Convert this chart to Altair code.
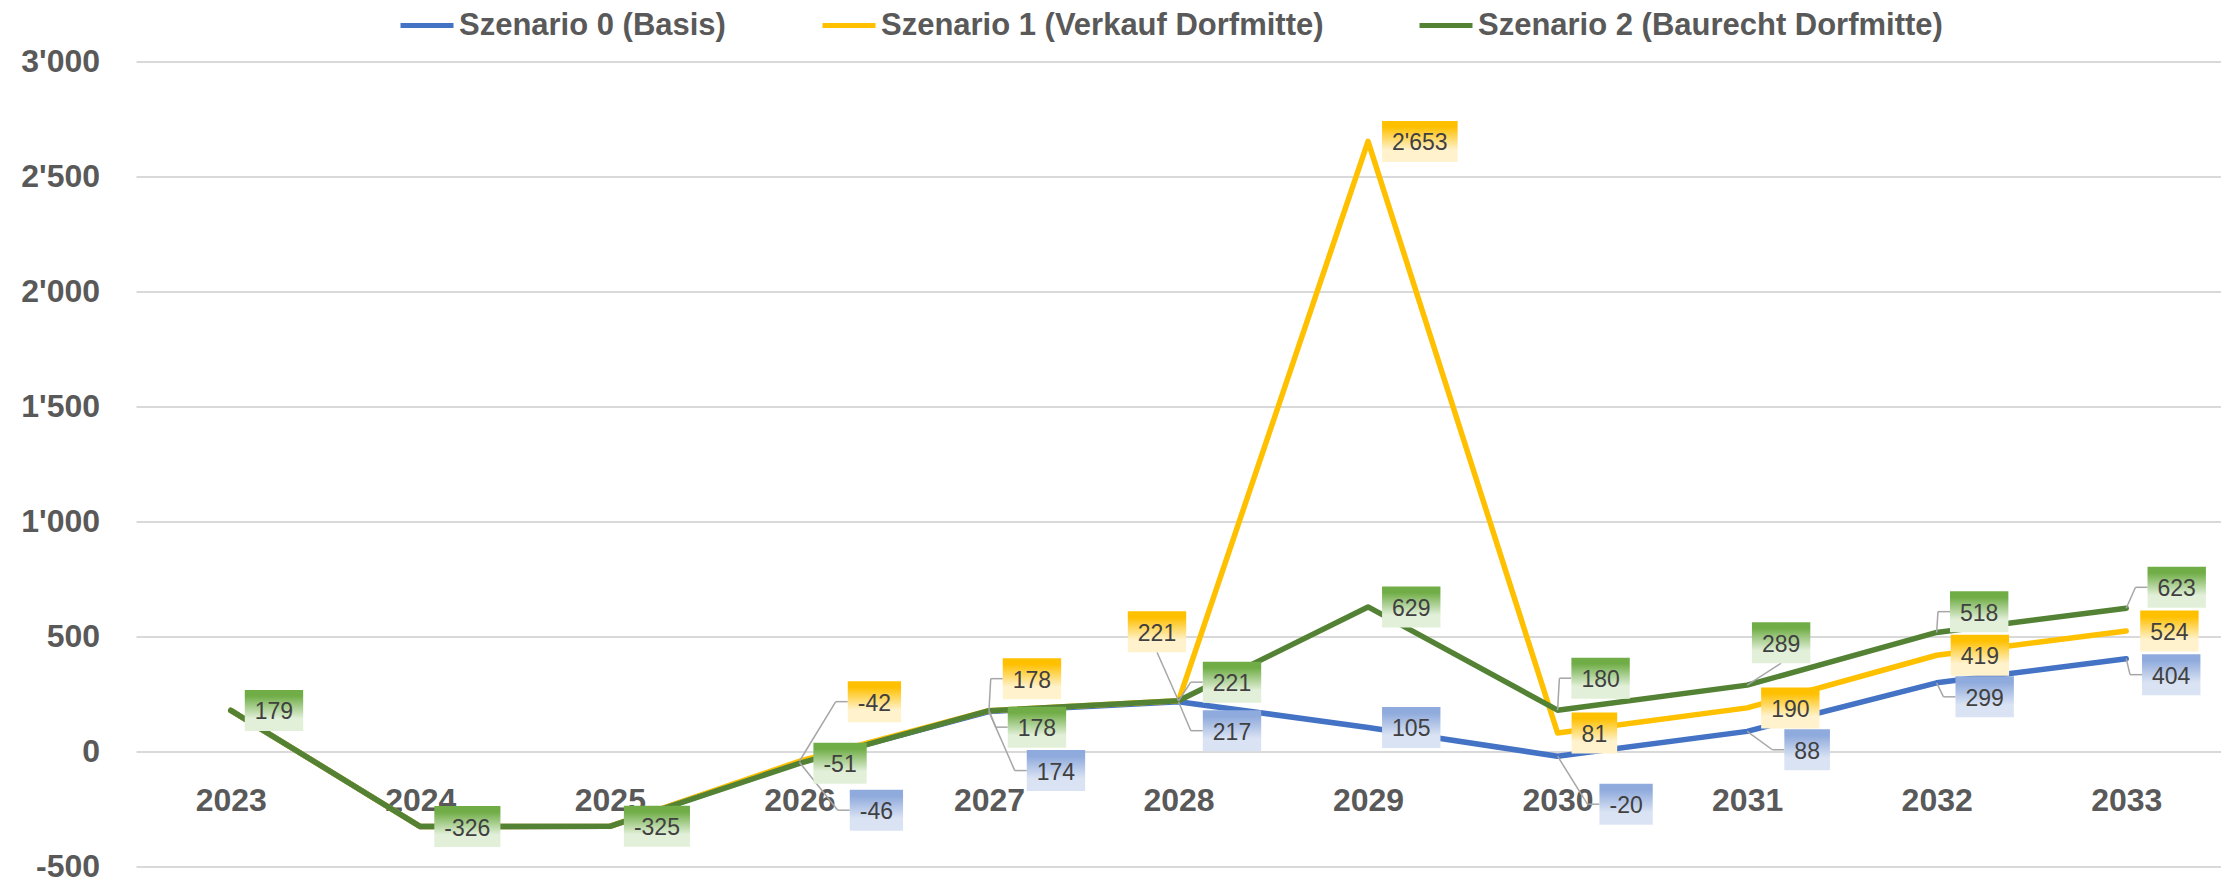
import altair as alt
import pandas as pd

# ---------------- data ----------------
years = [2023, 2024, 2025, 2026, 2027, 2028, 2029, 2030, 2031, 2032, 2033]
series_names = [
    "Szenario 0 (Basis)",
    "Szenario 1 (Verkauf Dorfmitte)",
    "Szenario 2 (Baurecht Dorfmitte)",
]
szenario_0 = [179, -326, -325, -46, 174, 217, 105, -20, 88, 299, 404]
szenario_1 = [179, -326, -325, -42, 178, 221, 2653, 81, 190, 419, 524]
szenario_2 = [179, -326, -325, -51, 178, 221, 629, 180, 289, 518, 623]
y_ticks = [-500, 0, 500, 1000, 1500, 2000, 2500, 3000]
series_values = [szenario_0, szenario_1, szenario_2]

# ---------------- styles ----------------
line_colors = ["#4472C4", "#FFC000", "#548235"]
box_top = ["#8FAADC", "#FFC000", "#70AD47"]
box_bottom = ["#DAE3F3", "#FFF2CC", "#E2F0D9"]
FONT = "Liberation Sans"
GREY_TXT = "#595959"

# ---------------- layout ----------------
W, H = 2085, 805
X_DOM = [2022.5, 2033.5]
Y_DOM = [-500, 3000]
ux = (X_DOM[1] - X_DOM[0]) / W   # data units per px (x)
uy = (Y_DOM[1] - Y_DOM[0]) / H   # data units per px (y)
BOX_H = 41

# label placement: (year, mode, dx px, dy px) box centre offset from point
label_layout = {
    0: [(2026, "side", 77, 48), (2027, "side", 67, 59), (2028, "side", 53.5, 29),
        (2029, "right", 0, 0), (2030, "side", 68.5, 48), (2031, "side", 60, 18.4),
        (2032, "side", 48, 14), (2033, "side", 45, 16)],
    1: [(2026, "side", 75, -59.6), (2027, "side", 43, -32), (2028, "bottom", -21.5, -69),
        (2029, "right", 0, 0), (2030, "right", 0, 0), (2031, "right", 0, 0),
        (2032, "right", 0, 0), (2033, "right", 0, 0)],
    2: [(2023, "right", 0, 0), (2024, "right", 0, 0), (2025, "right", 0, 0),
        (2026, "right", 0, 0), (2027, "side", 48, 16.5), (2028, "side", 53.5, -18.6),
        (2029, "right", 0, 0), (2030, "side", 43, -32), (2031, "bottom", 34, -42.5),
        (2032, "side", 42.5, -20.8), (2033, "side", 50.5, -21)],
}


def fmt(v):
    return f"{v:,}".replace(",", "'")


def text_w(s):
    return sum(12.8 if c.isdigit() else (7.7 if c == "-" else 4.4) for c in s)


line_rows = []
for s, vals in enumerate(series_values):
    for yr, v in zip(years, vals):
        line_rows.append({"year": yr, "value": v, "series": series_names[s]})
lines_df = pd.DataFrame(line_rows)

box_rows, lead_rows = [], []
for s, entries in label_layout.items():
    for yr, mode, dx, dy in entries:
        v = series_values[s][years.index(yr)]
        lab = fmt(v)
        w = text_w(lab) + 20
        if mode == "right":
            dx, dy = 14 + w / 2, 0
        cx = yr + dx * ux
        cy = v - dy * uy
        x1, x2 = cx - w / 2 * ux, cx + w / 2 * ux
        ytop, ybot = cy + BOX_H / 2 * uy, cy - BOX_H / 2 * uy
        box_rows.append({"s": s, "cx": cx, "cy": cy, "bx1": x1, "bx2": x2,
                         "by1": ytop, "by2": ybot, "label": lab})
        if mode == "side":
            ex = x1 - 12 * ux
            lead_rows.append({"lx": yr, "ly": v, "lx2": ex, "ly2": cy})
            lead_rows.append({"lx": ex, "ly": cy, "lx2": x1, "ly2": cy})
        elif mode == "bottom":
            lead_rows.append({"lx": yr, "ly": v, "lx2": cx, "ly2": ybot})
boxes_df = pd.DataFrame(box_rows)
leads_df = pd.DataFrame(lead_rows)

xscale = alt.Scale(domain=X_DOM, nice=False, zero=False)
yscale = alt.Scale(domain=Y_DOM, nice=False, zero=False)
color_scale = alt.Scale(domain=series_names, range=line_colors)

legend = alt.Legend(
    orient="none", legendX=262, legendY=-65, direction="horizontal", title=None,
    labelFont=FONT, labelFontSize=31, labelFontWeight="bold", labelColor=GREY_TXT,
    symbolType="stroke", symbolSize=2809, symbolStrokeWidth=5, columnPadding=85,
    labelOffset=3, padding=0, labelLimit=1000,
)

# x axis placed at the zero line
zero_from_bottom = H * (0 - Y_DOM[0]) / (Y_DOM[1] - Y_DOM[0])
x_axis = alt.Axis(
    values=years, format="d", title=None, grid=False, domain=False, ticks=False,
    tickSize=0, offset=-zero_from_bottom,
    labelFont=FONT, labelFontSize=32, labelFontWeight="bold", labelColor=GREY_TXT,
    labelPadding=34, labelBaseline="top",
)
y_axis = alt.Axis(
    values=y_ticks, title=None, grid=True, gridColor="#D9D9D9", gridWidth=2,
    domain=False, ticks=False, tickSize=0, labelPadding=36.5,
    labelFont=FONT, labelFontSize=32, labelFontWeight="bold", labelColor=GREY_TXT,
    labelExpr="(datum.value < 0 ? '-' : '') + replace(format(abs(datum.value), ','), ',', \"'\")",
)

layers = []
for i, name in enumerate(series_names):
    layers.append(
        alt.Chart(lines_df)
        .transform_filter(alt.datum.series == name)
        .mark_line(strokeWidth=5.5, strokeCap="round", strokeJoin="round")
        .encode(
            x=alt.X("year:Q", scale=xscale, axis=x_axis),
            y=alt.Y("value:Q", scale=yscale, axis=y_axis),
            color=alt.Color("series:N", scale=color_scale, legend=legend),
        )
    )

leaders = alt.Chart(leads_df).mark_rule(color="#A6A6A6", strokeWidth=1.5).encode(
    x=alt.X("lx:Q", scale=xscale, axis=x_axis),
    y=alt.Y("ly:Q", scale=yscale, axis=y_axis),
    x2="lx2:Q", y2="ly2:Q",
)
layers.append(leaders)

for s in range(3):
    grad = alt.Gradient(
        gradient="linear",
        stops=[
            alt.GradientStop(color=box_top[s], offset=0),
            alt.GradientStop(color=box_top[s], offset=0.15),
            alt.GradientStop(color=box_bottom[s], offset=0.7),
            alt.GradientStop(color=box_bottom[s], offset=1),
        ],
        x1=0, x2=0, y1=0, y2=1,
    )
    layers.append(
        alt.Chart(boxes_df)
        .transform_filter(alt.datum.s == s)
        .mark_rect(fill=grad)
        .encode(
            x=alt.X("bx1:Q", scale=xscale, axis=x_axis), x2="bx2:Q",
            y=alt.Y("by1:Q", scale=yscale, axis=y_axis), y2="by2:Q",
        )
    )

texts = alt.Chart(boxes_df).mark_text(
    font=FONT, fontSize=23, color="#404040", align="center", baseline="middle", dy=2
).encode(
    x=alt.X("cx:Q", scale=xscale, axis=x_axis),
    y=alt.Y("cy:Q", scale=yscale, axis=y_axis),
    text="label:N",
)
layers.append(texts)

chart = (
    alt.layer(*layers)
    .properties(
        width=W, height=H,
        padding={"left": 128, "top": 53.6, "right": 0, "bottom": 20},
        autosize=alt.AutoSizeParams(type="none"),
        background="white",
    )
    .configure_view(stroke=None)
)

chart.save("out.html", embed_options={"renderer": "svg", "actions": False})
